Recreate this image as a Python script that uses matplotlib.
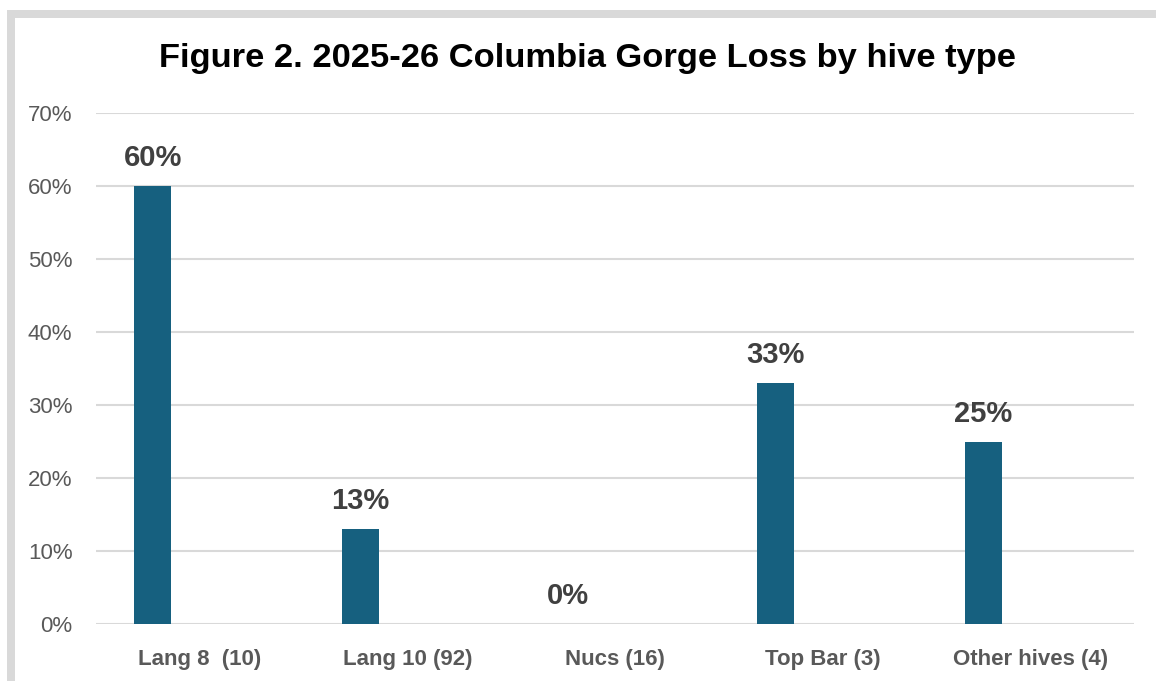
import matplotlib
matplotlib.use("Agg")
import matplotlib.pyplot as plt
from matplotlib.patches import Rectangle

categories = ["Lang 8  (10)", "Lang 10 (92)", "Nucs (16)", "Top Bar (3)", "Other hives (4)"]
loss = [0.60, 0.13, 0.00, 0.33, 0.25]
labels = ["60%", "13%", "0%", "33%", "25%"]
yticks = [0.0, 0.1, 0.2, 0.3, 0.4, 0.5, 0.6, 0.7]
ytick_labels = ["0%", "10%", "20%", "30%", "40%", "50%", "60%", "70%"]

W, H = 1156, 681
fig = plt.figure(figsize=(W / 100, H / 100), dpi=100)
fig.patch.set_facecolor("white")

# frame (top and left borders visible)
border = "#d9d9d9"
fig.patches.append(Rectangle((7 / W, 1 - 18 / H), 1.0, 8 / H, transform=fig.transFigure,
                             facecolor=border, edgecolor="none", zorder=0))
fig.patches.append(Rectangle((7 / W, 0), 8 / W, 1 - 10 / H, transform=fig.transFigure,
                             facecolor=border, edgecolor="none", zorder=0))

left, right, bottom, top = 96, 1134, 624, 113
ax = fig.add_axes([left / W, 1 - bottom / H, (right - left) / W, (bottom - top) / H])

x = list(range(len(categories)))
xb = [i - 0.226 for i in x]
bars = ax.bar(xb, loss, width=0.178, color="#16607f", zorder=3)

for xi, v, lab in zip(xb, loss, labels):
    ax.annotate(lab, (xi, v), xytext=(0, 10), textcoords="offset points",
                ha="center", va="bottom", fontsize=21, fontweight="bold",
                color="#404040", family="Liberation Sans")

ax.set_xlim(-0.5, 4.5)
ax.set_ylim(0, 0.7)
ax.set_yticks(yticks)
ax.set_yticklabels(ytick_labels, fontsize=16, color="#595959", family="Liberation Sans")
ax.set_xticks(x)
ax.set_xticklabels(categories, fontsize=16, fontweight="bold", color="#595959",
                   family="Liberation Sans")
ax.tick_params(axis="y", length=0, pad=17)
ax.tick_params(axis="x", length=0, pad=18)
ax.grid(axis="y", color="#d9d9d9", linewidth=1.5, zorder=0)
for s in ax.spines.values():
    s.set_visible(False)
ax.set_axisbelow(True)

fig.text(587.5 / W, 1 - 59 / H, "Figure 2. 2025-26 Columbia Gorge Loss by hive type",
         ha="center", va="center", fontsize=24.8, fontweight="bold", color="black",
         family="Liberation Sans")

fig.savefig("out.png", dpi=100, facecolor="white")
